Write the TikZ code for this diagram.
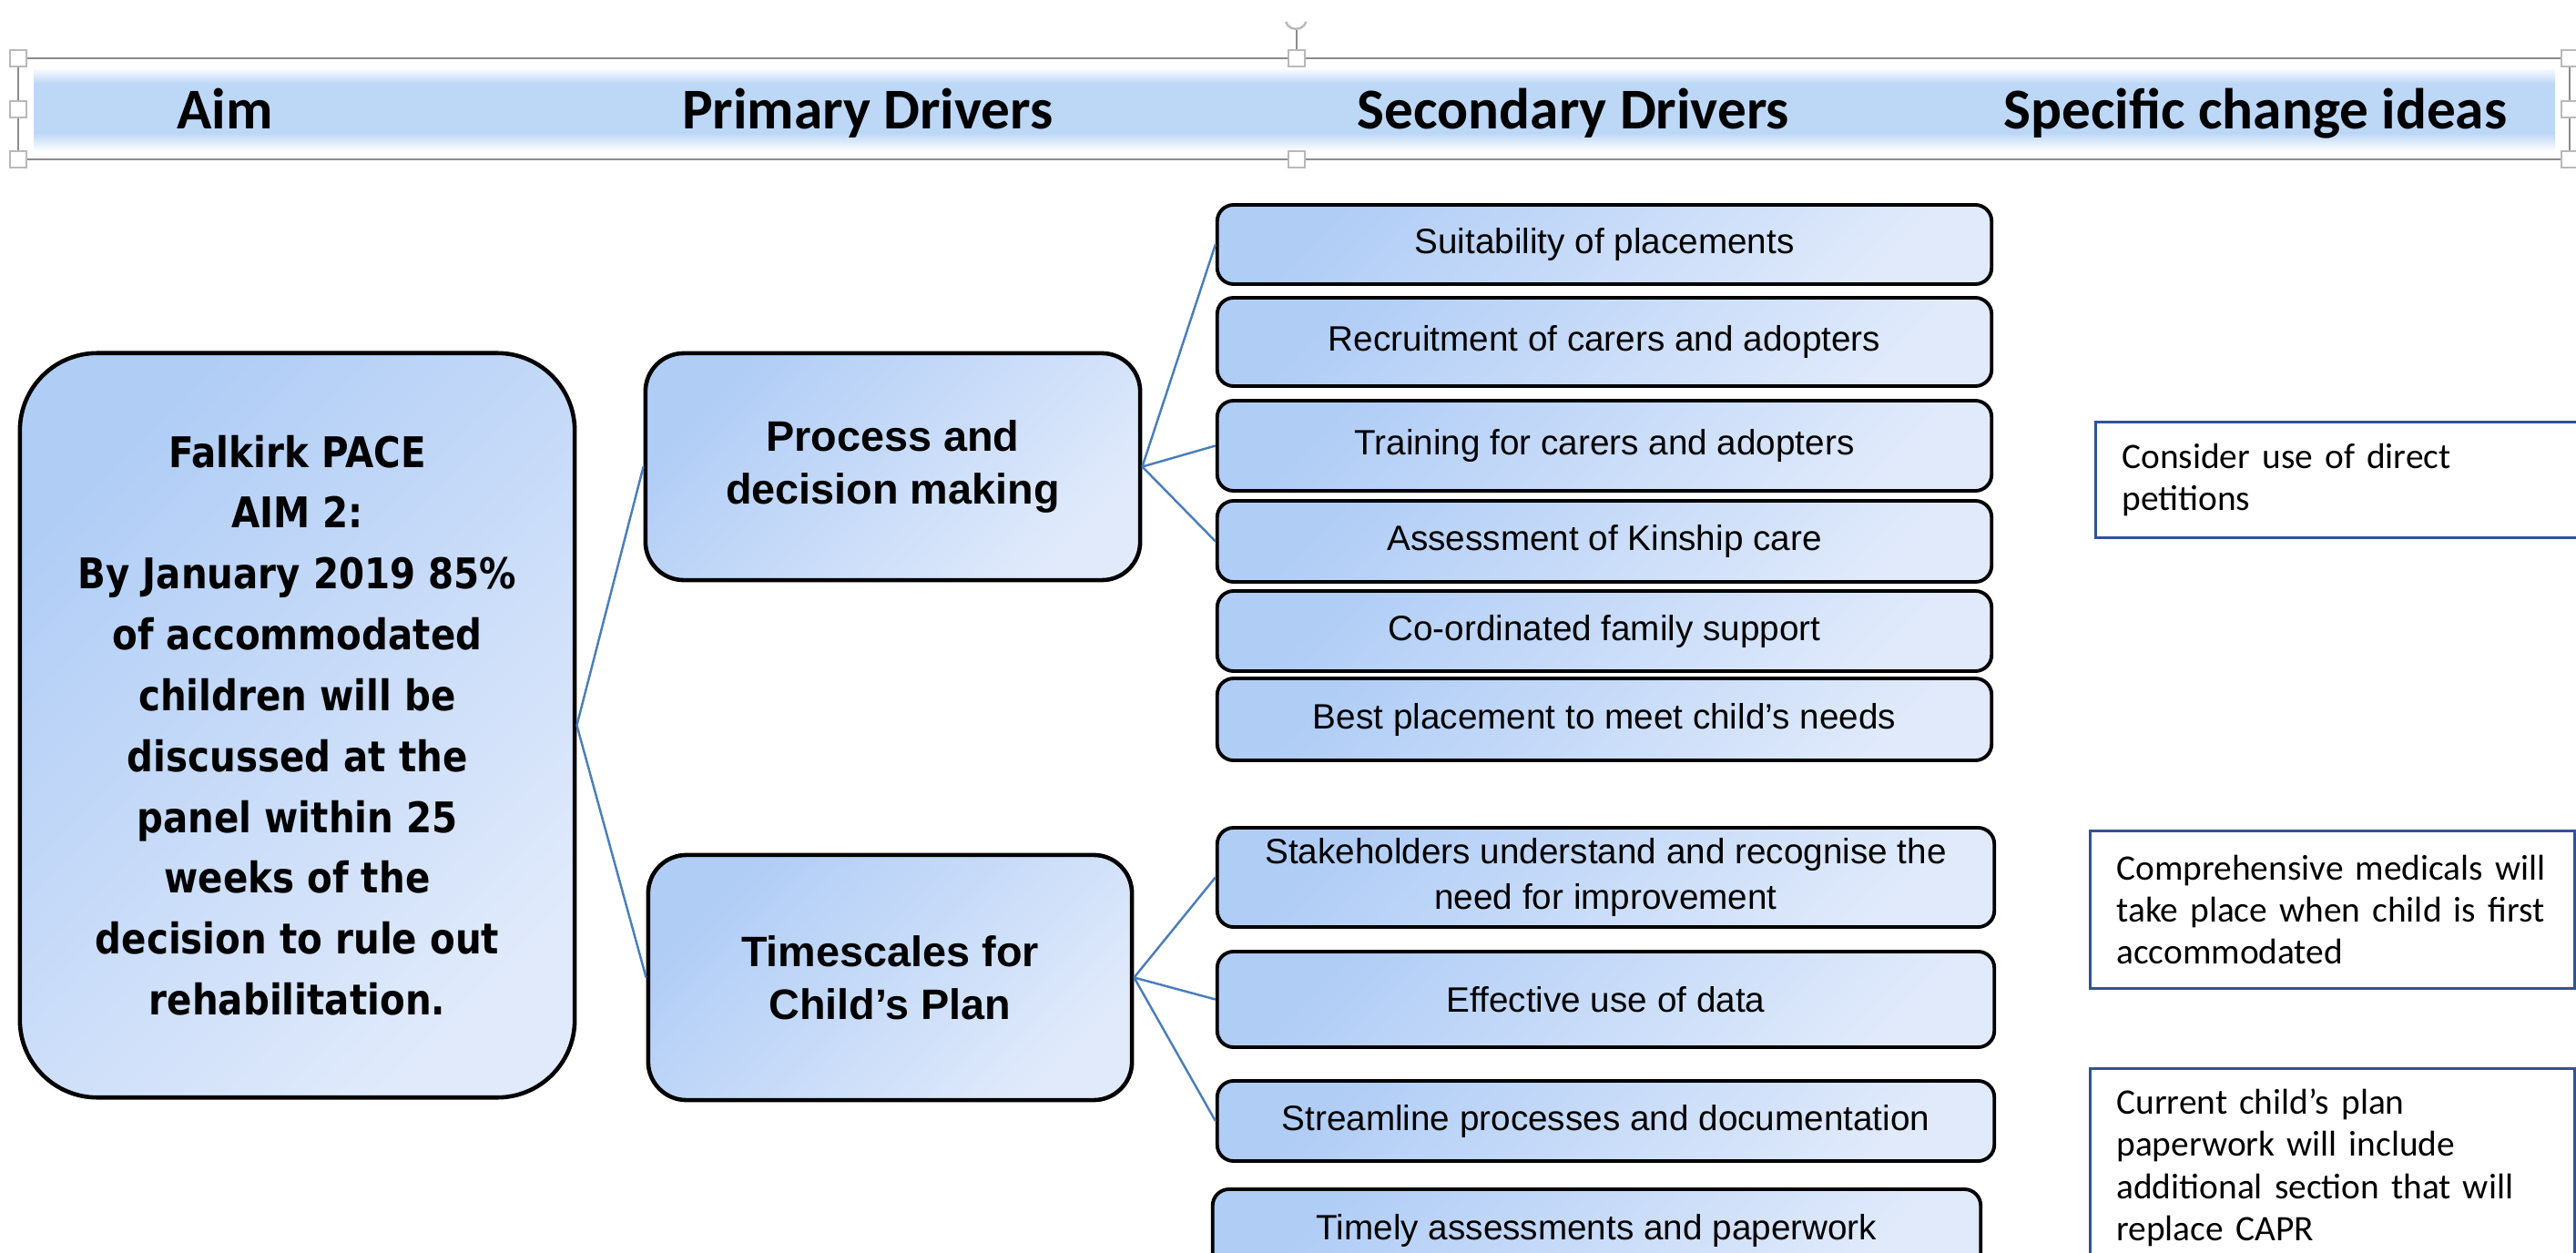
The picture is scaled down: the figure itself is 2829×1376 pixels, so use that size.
\documentclass[tikz,border=0pt]{standalone}
\usepackage{fontspec}
\usepackage{xcolor}
\usetikzlibrary{positioning}
\newfontfamily\headfont{Carlito}
\newfontfamily\aimfont[FakeStretch=0.87]{DejaVu Sans}
\newfontfamily\drvfont{Liberation Sans}
\newfontfamily\ideafont{Carlito}
\definecolor{bandblue}{RGB}{189,215,247}
\definecolor{boxdark}{RGB}{176,205,246}
\definecolor{boxlight}{RGB}{224,234,251}
\definecolor{linkblue}{RGB}{74,126,187}
\definecolor{ideablue}{RGB}{46,84,150}
\definecolor{framegray}{RGB}{140,140,140}
\definecolor{handlegray}{RGB}{185,185,185}
\tikzset{
  fillbox/.style={draw=black, top color=boxdark, bottom color=boxlight,
    shading angle=45, inner sep=0pt, align=center},
  aimbox/.style={fillbox, line width=1.3pt, rounded corners=0.85cm,
    minimum width=6.09cm, minimum height=8.17cm,
    font=\aimfont\bfseries\fontsize{13.2}{19}\selectfont},
  pdbox/.style={fillbox, line width=1.3pt, rounded corners=0.42cm,
    font=\drvfont\bfseries\fontsize{13.3}{16.5}\selectfont},
  sdbox/.style={fillbox, line width=1.1pt, rounded corners=0.18cm,
    minimum width=8.5cm, font=\drvfont\fontsize{11}{14}\selectfont},
  ideabox/.style={draw=ideablue, line width=0.8pt, fill=white,
    anchor=north west, align=left, inner xsep=0.29cm, inner ysep=0pt,
    font=\ideafont\fontsize{11.2}{13.2}\selectfont},
  link/.style={draw=linkblue, line width=0.7pt},
  handle/.style={draw=handlegray, fill=white, line width=0.6pt,
    minimum size=0.18cm, inner sep=0pt},
  headtext/.style={anchor=base, font=\headfont\bfseries\fontsize{18}{21}\selectfont}
}
\begin{document}
\begin{tikzpicture}[x=0.01cm,y=-0.01cm]
  \useasboundingbox (0,0) rectangle (2829,1376);
  \clip (0,0) rectangle (2829,1376);

  \shade[top color=white, bottom color=bandblue] (37,74) rectangle (2806,92);
  \fill[bandblue] (37,92) rectangle (2806,146);
  \shade[top color=bandblue, bottom color=white] (37,146) rectangle (2806,166);
  \draw[framegray, line width=0.6pt] (20,64) rectangle (2822,175);
  \draw[framegray, line width=0.6pt] (1424,64) -- (1424,32);
  \draw[handlegray, line width=0.7pt] (1412,24) arc[start angle=200, end angle=340, radius=0.12cm];
  \foreach \hx/\hy in {20/64,20/120,20/175,1424/64,1424/175,2822/64,2822/120,2822/175}
    \node[handle] (hdl-\hx-\hy) at (\hx,\hy) {};

  \node[headtext] (haim) at (247,142) {Aim};
  \node[headtext] (hpd) at (953,142) {Primary Drivers};
  \node[headtext] (hsd) at (1728,142) {Secondary Drivers};
  \node[headtext] (hsc) at (2477,142) {Specific change ideas};

  \node[aimbox] (aim) at (326.5,796.5) {Falkirk PACE\\AIM 2:\\By January 2019 85\%\\of accommodated\\children will be\\discussed at the\\panel within 25\\weeks of the\\decision to rule out\\rehabilitation.};

  \node[pdbox, minimum width=5.43cm, minimum height=2.49cm] (pdm) at (980.5,512.5) {Process and\\decision making};
  \node[pdbox, minimum width=5.31cm, minimum height=2.69cm] (tcp) at (977.5,1073.5) {Timescales for\\Child’s Plan};

  \node[sdbox, minimum height=0.87cm] (sop) at (1762,268.5) {Suitability of placements};
  \node[sdbox, minimum height=0.97cm] (rca) at (1762,375.5) {Recruitment of carers and adopters};
  \node[sdbox, minimum height=0.99cm] (tca) at (1762,489.5) {Training for carers and adopters};
  \node[sdbox, minimum height=0.89cm] (akc) at (1762,594.5) {Assessment of Kinship care};
  \node[sdbox, minimum height=0.88cm] (cfs) at (1762,693) {Co-ordinated family support};
  \node[sdbox, minimum height=0.90cm] (bpn) at (1762,790) {Best placement to meet child’s needs};

  \node[sdbox, minimum width=8.53cm, minimum height=1.09cm] (sur) at (1763.5,963.5) {Stakeholders understand and recognise the\\need for improvement};
  \node[sdbox, minimum width=8.53cm, minimum height=1.05cm] (eud) at (1763.5,1097.5) {Effective use of data};
  \node[sdbox, minimum width=8.53cm, minimum height=0.88cm] (spd) at (1763.5,1231) {Streamline processes and documentation};
  \node[sdbox, minimum width=8.43cm, minimum height=0.90cm] (tap) at (1753.5,1351) {Timely assessments and paperwork};

  \draw[link] (aim.east) -- (pdm.west);
  \draw[link] (aim.east) -- (tcp.west);
  \draw[link] (pdm.east) -- (sop.west);
  \draw[link] (pdm.east) -- (tca.west);
  \draw[link] (pdm.east) -- (akc.west);
  \draw[link] (tcp.east) -- (sur.west);
  \draw[link] (tcp.east) -- (eud.west);
  \draw[link] (tcp.east) -- (spd.west);

  \node[ideabox, minimum width=6cm, minimum height=1.27cm, text width=5.42cm] (cud) at (2300,462) {Consider use of direct\\petitions};
  \node[ideabox, minimum width=5.32cm, minimum height=1.73cm, text width=4.74cm] (cmw) at (2294,911) {Comprehensive medicals will\\take place when child is first\\accommodated};
  \node[ideabox, minimum width=5.32cm, minimum height=2.18cm, text width=4.74cm] (ccp) at (2294,1172) {Current child’s plan\\paperwork will include\\additional section that will\\replace CAPR};
\end{tikzpicture}
\end{document}
